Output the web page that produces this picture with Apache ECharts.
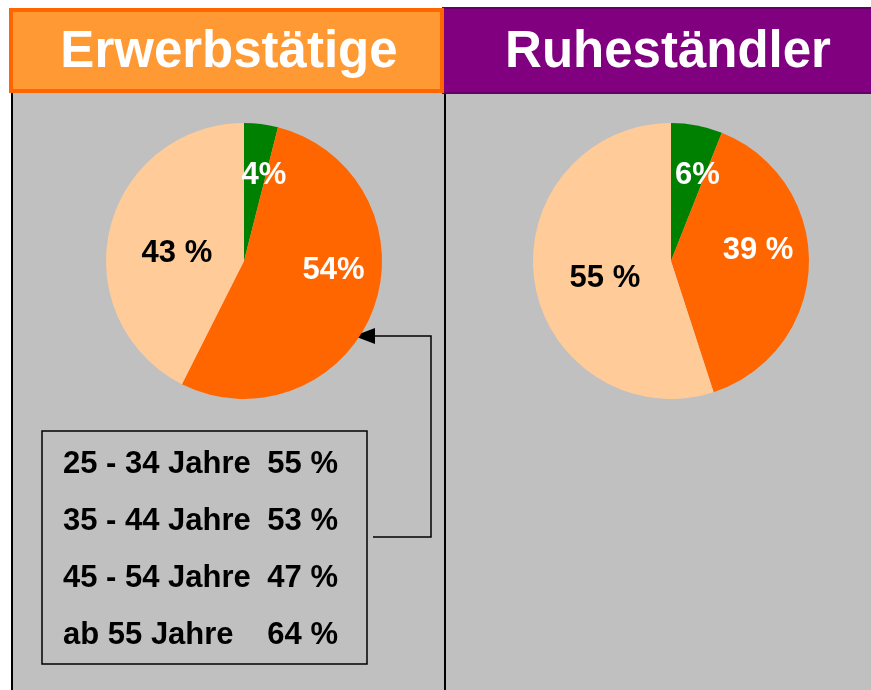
<!DOCTYPE html>
<html>
<head>
<meta charset="utf-8">
<script src="https://cdn.jsdelivr.net/npm/echarts@6/dist/echarts.min.js"></script>
<style>
  html, body { margin: 0; padding: 0; background: #fff; }
  #main { width: 871px; height: 690px; }
</style>
</head>
<body>
<div id="main"></div>
<script>
// pie data (share in %)
const sliceNames = ['unter 25 Jahre', '25 - 54 Jahre', 'ab 55 Jahre'];
const erwerbValues = [4, 54, 43];
const ruheValues = [6, 39, 55];
const sliceColors = ['#008000', '#FF6600', '#FFCC99'];
const labelColors = ['#fff', '#fff', '#000'];

// box text
const ageGroups = ['25 - 34 Jahre', '35 - 44 Jahre', '45 - 54 Jahre', 'ab 55 Jahre'];
const agePercent = [55, 53, 47, 64];

const fontFam = 'Liberation Sans, Arial, sans-serif';

var chartDom = document.getElementById('main');
var myChart = echarts.init(chartDom);

// little nudges so labels sit like in the original
let leftOffsets = [[11, -14], [22, -16], [3, 9]];
let rightOffsets = [[13, -15], [15, -13], [5, 6]];
let leftSep = ['', '', ' '];
let rightSep = ['', ' ', ' '];

function buildData(values, offsets, seps) {
    return values.map((v, i) => ({
        name: sliceNames[i],
        value: v,
        itemStyle: { color: sliceColors[i] },
        label: {
            color: labelColors[i],
            offset: offsets[i],
            formatter: v + seps[i] + '%'
        }
    }));
}

function pieSeries(center, values, offsets, seps) {
    return {
        type: 'pie',
        center: center,
        radius: 138,
        startAngle: 90,
        clockwise: true,
        silent: true,
        avoidLabelOverlap: false,
        label: {
            show: true,
            position: 'inside',
            fontFamily: fontFam,
            fontWeight: 'bold',
            fontSize: 31
        },
        labelLine: { show: false },
        itemStyle: { borderWidth: 0 },
        data: buildData(values, offsets, seps)
    };
}

let boxText = [];
ageGroups.forEach((g, i) => {
    let y = 464 + i * 57.3;
    boxText.push({
        type: 'text', x: 63, y: y,
        style: { text: g, font: 'bold 31px ' + fontFam, fill: '#000', textVerticalAlign: 'middle' }
    });
    boxText.push({
        type: 'text', x: 338, y: y,
        style: { text: agePercent[i] + ' %', font: 'bold 31px ' + fontFam, fill: '#000', textAlign: 'right', textVerticalAlign: 'middle' }
    });
});

let option = {
    backgroundColor: '#fff',
    animation: false,
    graphic: [
        // panels
        { type: 'rect', shape: { x: 12, y: 92, width: 434, height: 598 }, style: { fill: '#C0C0C0' }, z: -10 },
        { type: 'rect', shape: { x: 446, y: 92, width: 425, height: 598 }, style: { fill: '#C0C0C0' }, z: -10 },
        { type: 'line', shape: { x1: 12, y1: 92, x2: 12, y2: 690 }, style: { stroke: '#000', lineWidth: 2 }, z: -5 },
        { type: 'line', shape: { x1: 445, y1: 92, x2: 445, y2: 690 }, style: { stroke: '#000', lineWidth: 2 }, z: -5 },
        // headers
        { type: 'rect', shape: { x: 443, y: 8, width: 430, height: 85 }, style: { fill: '#800080', stroke: '#660066', lineWidth: 2 }, z: -4 },
        { type: 'rect', shape: { x: 11, y: 10, width: 431, height: 81 }, style: { fill: '#FF9933', stroke: '#FF6600', lineWidth: 4 }, z: -3 },
        {
            type: 'text', x: 229, y: 53,
            style: { text: 'Erwerbstätige', font: 'bold 51px ' + fontFam, fill: '#fff', textAlign: 'center', textVerticalAlign: 'middle' }
        },
        {
            type: 'text', x: 668, y: 53,
            style: { text: 'Ruheständler', font: 'bold 51px ' + fontFam, fill: '#fff', textAlign: 'center', textVerticalAlign: 'middle' }
        },
        // box with age groups
        { type: 'rect', shape: { x: 42, y: 431, width: 325, height: 233 }, style: { fill: 'none', stroke: '#000', lineWidth: 1.5 } },
        ...boxText,
        // arrow to the orange slice
        { type: 'polyline', shape: { points: [[373, 537], [431, 537], [431, 336], [372, 336]] }, style: { stroke: '#000', lineWidth: 1.5, fill: 'none' } },
        { type: 'polygon', shape: { points: [[354, 336], [375, 328], [375, 344]] }, style: { fill: '#000' } }
    ],
    series: [
        pieSeries([244, 261], erwerbValues, leftOffsets, leftSep),
        pieSeries([671, 261], ruheValues, rightOffsets, rightSep)
    ]
};

option && myChart.setOption(option);
</script>
</body>
</html>
